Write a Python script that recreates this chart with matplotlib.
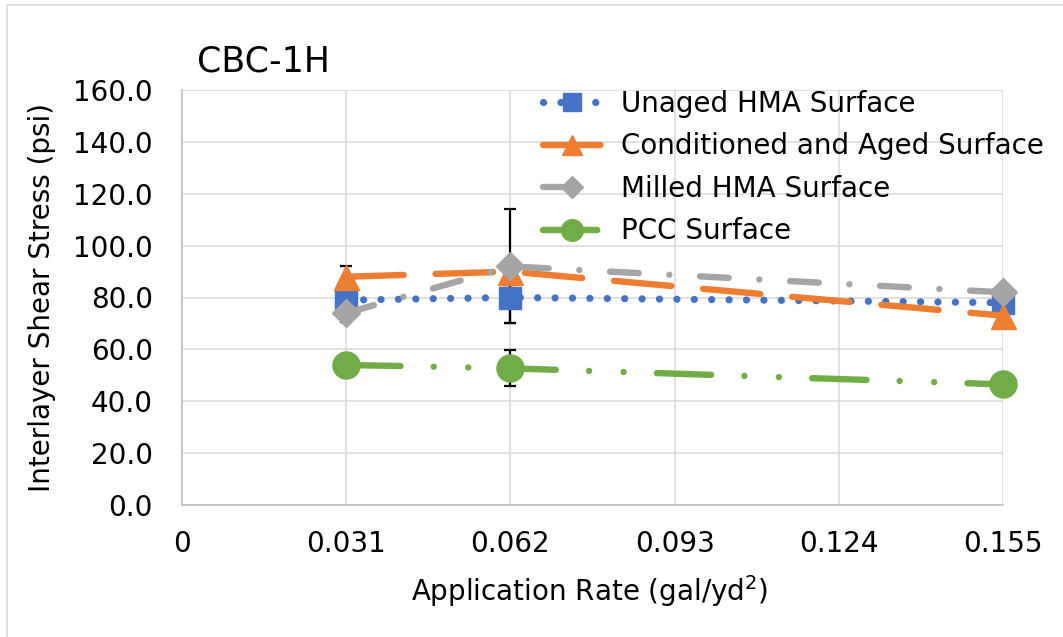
import matplotlib
matplotlib.use("Agg")
import matplotlib.pyplot as plt
from matplotlib.patches import Rectangle

# Datos
tasas = [0.031, 0.062, 0.155]
unaged = [79.0, 80.0, 78.0]
unaged_err = [3.0, 10.0, 1.0]
acondicionado = [88.0, 90.0, 73.0]
acondicionado_err = [4.0, 5.0, 1.0]
fresado = [74.0, 92.0, 82.0]
fresado_err = [3.5, 22.0, 1.0]
pcc = [54.0, 52.7, 46.5]
pcc_err = [1.0, 7.0, 1.0]

etiquetas = ["Unaged HMA Surface", "Conditioned and Aged Surface",
             "Milled HMA Surface", "PCC Surface"]
xticks = [0, 0.031, 0.062, 0.093, 0.124, 0.155]
xtick_labels = ["0", "0.031", "0.062", "0.093", "0.124", "0.155"]
yticks = [0, 20, 40, 60, 80, 100, 120, 140, 160]

plt.rcParams["font.family"] = ["DejaVu Sans"]

fig = plt.figure(figsize=(10.63, 6.37), dpi=100)
ax = fig.add_axes([182 / 1063, 1 - 505 / 637, 821 / 1063, 415 / 637])

# Borde del área del gráfico
fig.patches.append(Rectangle((7 / 1063, -0.05), 1.2, 1 - 5 / 637 + 0.05,
                             transform=fig.transFigure, fill=False,
                             edgecolor="#D9D9D9", linewidth=1.2))

series = [
    (unaged, unaged_err, "#4472C4", "s", 16, 5.2, (0, (0.01, 2.4))),
    (acondicionado, acondicionado_err, "#ED7D31", "^", 18, 4.6,
     (0, (9.0, 5.0))),
    (fresado, fresado_err, "#A5A5A5", "D", 14, 4.6,
     (0, (4.5, 4.8, 0.01, 4.8))),
    (pcc, pcc_err, "#70AD47", "o", 19.5, 4.6,
     (0, (8.5, 5.2, 0.01, 5.4, 0.01, 5.2))),
]

for i, (y, err, color, marker, ms, lw, ls) in enumerate(series):
    # Barras de error detrás de los marcadores
    ax.errorbar(tasas, y, yerr=err, fmt="none", ecolor="black",
                elinewidth=1.6, capsize=4.5, capthick=1.6, zorder=2 + i)
    ax.plot(tasas, y, color=color, linestyle=ls, linewidth=lw,
            dash_capstyle="round", marker=marker, markersize=ms,
            markeredgecolor=color, markerfacecolor=color,
            label=etiquetas[i], zorder=6 + i, clip_on=False)

# Personalización
ax.set_xlim(0, 0.155)
ax.set_ylim(0, 160)
ax.set_xticks(xticks)
ax.set_xticklabels(xtick_labels)
ax.set_yticks(yticks)
ax.set_yticklabels([f"{v:.1f}" for v in yticks])
ax.grid(True, color="#D9D9D9", linewidth=1.1, zorder=0)
ax.set_axisbelow(True)
for lado in ["top", "right"]:
    ax.spines[lado].set_visible(False)
for lado in ["left", "bottom"]:
    ax.spines[lado].set_color("#BFBFBF")
    ax.spines[lado].set_linewidth(1.2)
ax.tick_params(axis="both", length=0, labelsize=20, colors="black")
ax.tick_params(axis="y", pad=21)
ax.tick_params(axis="x", pad=18)

ax.set_ylabel("Interlayer Shear Stress (psi)", fontsize=20)
ax.set_xlabel(r"Application Rate (gal/yd$^2$)", fontsize=20)
ax.yaxis.set_label_coords(-0.153, 0.5)
ax.xaxis.set_label_coords(0.497, -0.165)

fig.text(197 / 1063, 1 - 72 / 637, "CBC-1H", fontsize=25,
         va="baseline", ha="left")

ax.legend(loc="upper left", bbox_to_anchor=(543 / 1063, 1 - 90 / 637),
          bbox_transform=fig.transFigure, frameon=False, fontsize=20,
          handlelength=2.1, handletextpad=0.7, labelspacing=0.52,
          markerscale=0.8, borderpad=0, borderaxespad=0)

fig.savefig("out.png", dpi=100)
